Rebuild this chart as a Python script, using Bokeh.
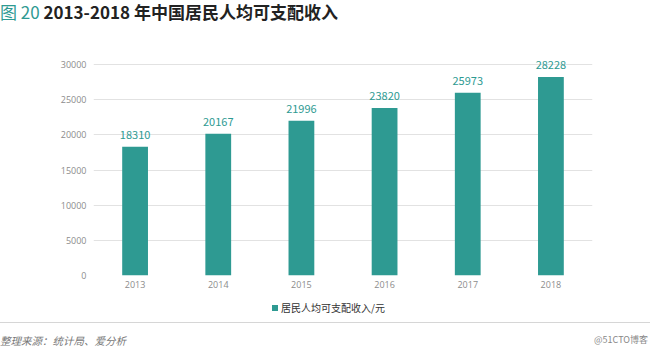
from bokeh.plotting import figure
from bokeh.models import FactorRange, Range1d, Div, SingleIntervalTicker, ColumnDataSource
from bokeh.layouts import column
from bokeh.core.properties import value
from bokeh.embed import file_html
from bokeh.resources import INLINE

years = ["2013", "2014", "2015", "2016", "2017", "2018"]
income = [18310, 20167, 21996, 23820, 25973, 28228]
series_name = "居民人均可支配收入/元"
title_prefix = "图 20"
title_main = "2013-2018 年中国居民人均可支配收入"
source_text = "整理来源：统计局、爱分析"
watermark = "@51CTO博客"

TEAL = "#2e9a92"
CJK = "Noto Sans CJK SC"

src = ColumnDataSource(dict(x=years, top=income, lab=[str(v) for v in income]))

p = figure(width=650, height=267, x_range=FactorRange(*years), y_range=Range1d(0, 31000),
           output_backend="svg", toolbar_location=None,
           min_border_left=93, min_border_right=58, min_border_top=27, min_border_bottom=22)
p.outline_line_color = None
p.background_fill_color = "white"

r = p.vbar(x="x", top="top", width=0.31, source=src, fill_color=TEAL, line_color=None,
           legend_label=series_name)
p.legend.visible = False
p.text(x="x", y="top", text="lab", source=src, text_align="center", text_baseline="bottom",
       y_offset=-8, text_color=TEAL, text_font=value(CJK), text_font_size="11px")

p.xgrid.grid_line_color = None
p.ygrid.grid_line_color = "#e2e2e2"
p.ygrid.grid_line_width = 1
p.yaxis.ticker = SingleIntervalTicker(interval=5000)
for ax in (p.xaxis, p.yaxis):
    ax.axis_line_color = None
    ax.major_tick_line_color = None
    ax.minor_tick_line_color = None
    ax.major_tick_out = 0
    ax.major_tick_in = 0
    ax.major_label_text_color = "#8c8c8c"
    ax.major_label_text_font = "Open Sans"
    ax.major_label_text_font_size = "9px"
p.yaxis.major_label_standoff = 3
p.xaxis.major_label_standoff = 5

title_div = Div(
    text=(f'<span style="color:{TEAL}">{title_prefix}</span> '
          f'<span style="font-weight:bold">{title_main}</span>'),
    width=650, height=30, margin=0,
    styles={"font-family": CJK, "font-size": "17px", "line-height": "20px",
            "padding-top": "2px", "color": "#222222", "white-space": "nowrap"})

legend_div = Div(
    text=('<div style="display:flex;align-items:center;height:12px;margin-top:-2px;'
          'padding-left:272px;">'
          f'<span style="display:inline-block;width:6px;height:6px;background:{TEAL};'
          'margin-right:3px;"></span>'
          f'<span style="font-size:10px;color:#333333;line-height:12px;">{series_name}</span>'
          '</div>'),
    width=650, height=13, margin=0,
    styles={"font-family": CJK, "white-space": "nowrap"})

footer_div = Div(
    text=('<div style="margin-top:12px;border-top:1px solid #d6d6d6;width:650px;'
          'display:flex;justify-content:space-between;align-items:center;height:36px;">'
          f'<span style="font-style:italic;font-size:10.5px;color:#777777;">{source_text}</span>'
          f'<span style="font-size:9px;color:#888888;padding-right:2px;">{watermark}</span>'
          '</div>'),
    width=650, height=44, margin=0,
    styles={"font-family": CJK, "white-space": "nowrap"})

layout = column(title_div, p, legend_div, footer_div, spacing=0)
open("out.html", "w").write(file_html(layout, INLINE))
